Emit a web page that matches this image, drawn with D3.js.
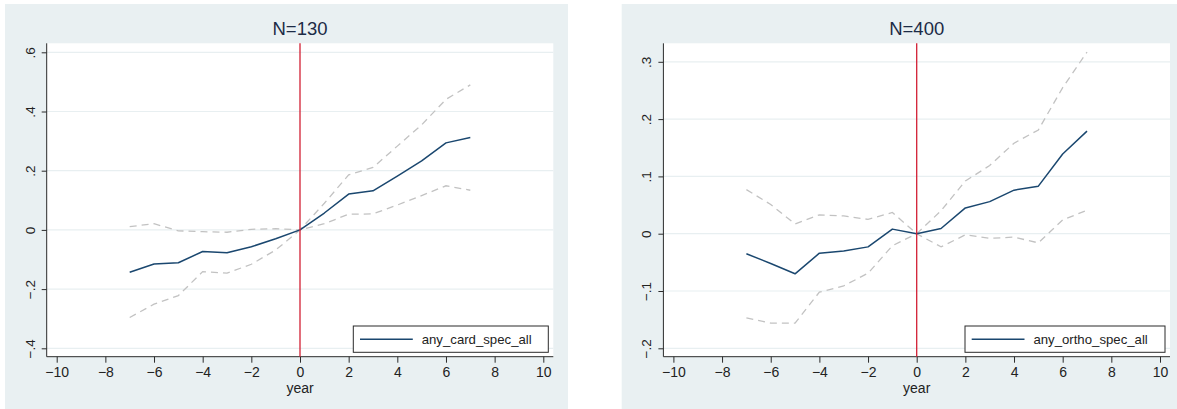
<!DOCTYPE html>
<html>
<head>
<meta charset="utf-8">
<script src="https://cdn.jsdelivr.net/npm/d3@7"></script>
<style>
  html, body { margin: 0; padding: 0; background: #ffffff; }
  svg { display: block; font-family: "Liberation Sans", Arial, sans-serif; }
</style>
</head>
<body>
<svg id="chart" width="1177" height="409"></svg>
<script>
// ---------- data ----------
const years = [-7, -6, -5, -4, -3, -2, -1, 0, 1, 2, 3, 4, 5, 6, 7];

const cardEst = [-0.143, -0.115, -0.111, -0.073, -0.077, -0.057, -0.030, 0, 0.057, 0.121, 0.132, 0.182, 0.233, 0.294, 0.312];
const cardHi  = [0.011, 0.021, -0.003, -0.006, -0.008, 0.002, 0.004, 0, 0.090, 0.186, 0.211, 0.283, 0.355, 0.441, 0.490];
const cardLo  = [-0.296, -0.251, -0.222, -0.141, -0.146, -0.116, -0.068, 0, 0.021, 0.053, 0.054, 0.084, 0.116, 0.149, 0.134];

const orthoEst = [-0.035, -0.052, -0.070, -0.034, -0.030, -0.023, 0.008, 0, 0.009, 0.045, 0.056, 0.076, 0.083, 0.139, 0.179];
const orthoHi  = [0.077, 0.051, 0.017, 0.033, 0.031, 0.025, 0.037, 0, 0.040, 0.092, 0.119, 0.158, 0.181, 0.255, 0.317];
const orthoLo  = [-0.147, -0.156, -0.156, -0.102, -0.091, -0.069, -0.021, 0, -0.023, -0.002, -0.008, -0.006, -0.016, 0.024, 0.041];

const xTicks = [-10, -8, -6, -4, -2, 0, 2, 4, 6, 8, 10];
const cardYTicks = [-0.4, -0.2, 0, 0.2, 0.4, 0.6];
const orthoYTicks = [-0.2, -0.1, 0, 0.1, 0.2, 0.3];

const titles = ["N=130", "N=400"];
const legendLabels = ["any_card_spec_all", "any_ortho_spec_all"];
const xLabel = "year";

// ---------- styles ----------
const C = {
  bg: "#e9f0f2",
  grid: "#e8eff1",
  axis: "#2b2b2b",
  est: "#1a476f",
  ci: "#c2c2c2",
  red: "#d21f34",
  title: "#1c2b46",
  text: "#222222"
};

const svg = d3.select("#chart");

function fmt(v) {
  if (Math.abs(v) < 1e-9) return "0";
  let s = String(Math.abs(+v.toFixed(3))).replace(/^0\./, ".");
  return (v < 0 ? "\u2212" : "") + s;
}
function fmtX(v) { return (v < 0 ? "\u2212" : "") + Math.abs(v); }

function drawPanel(offsetX, est, lo, hi, yDomain, yRangePx, yTicks, title, legendLabel, legendW) {
  const g = svg.append("g").attr("transform", `translate(${offsetX},0)`);
  const plot = { x0: 46.7, x1: 553.3, y0: 43.3, y1: 356.7 };

  // panel background
  g.append("rect").attr("x", 5).attr("y", 4).attr("width", 563).attr("height", 405).attr("fill", C.bg);
  g.append("rect").attr("x", plot.x0).attr("y", plot.y0)
    .attr("width", plot.x1 - plot.x0).attr("height", plot.y1 - plot.y0).attr("fill", "#ffffff");

  const x = d3.scaleLinear().domain([-10, 10]).range([56.7, 543.3]);
  const y = d3.scaleLinear().domain(yDomain).range(yRangePx);

  // grid lines
  g.append("g").selectAll("line").data(yTicks).join("line")
    .attr("x1", plot.x0).attr("x2", plot.x1)
    .attr("y1", d => y(d)).attr("y2", d => y(d))
    .attr("stroke", C.grid).attr("stroke-width", 1.2);

  // y axis
  const yAxis = d3.axisLeft(y).tickValues(yTicks).tickSize(5).tickPadding(6).tickFormat(fmt);
  const ya = g.append("g").attr("transform", `translate(${plot.x0},0)`).call(yAxis);
  ya.select(".domain").attr("d", `M0,${plot.y0}V${plot.y1}`).attr("stroke", C.axis);
  ya.selectAll(".tick line").attr("stroke", C.axis);
  ya.selectAll(".tick text")
    .attr("x", null).attr("dy", null)
    .attr("transform", "translate(-12,0) rotate(-90)")
    .attr("text-anchor", "middle")
    .attr("font-size", 13.5).attr("fill", C.text)
    .attr("font-family", "Liberation Sans, Arial, sans-serif");

  // x axis
  const xAxis = d3.axisBottom(x).tickValues(xTicks).tickSize(6).tickPadding(4).tickFormat(fmtX);
  const xa = g.append("g").attr("transform", `translate(0,${plot.y1})`).call(xAxis);
  xa.select(".domain").attr("d", `M${plot.x0},0H${plot.x1}`).attr("stroke", C.axis);
  xa.selectAll(".tick line").attr("stroke", C.axis);
  xa.selectAll(".tick text").attr("font-size", 14).attr("fill", C.text)
    .attr("font-family", "Liberation Sans, Arial, sans-serif");

  // lines
  const pts = arr => years.map((yr, i) => [yr, arr[i]]);
  const line = d3.line().x(d => x(d[0])).y(d => y(d[1]));

  [hi, lo].forEach(arr => {
    g.append("path").attr("d", line(pts(arr)))
      .attr("fill", "none").attr("stroke", C.ci).attr("stroke-width", 1.3)
      .attr("stroke-dasharray", "7,5");
  });
  g.append("path").attr("d", line(pts(est)))
    .attr("fill", "none").attr("stroke", C.est).attr("stroke-width", 1.5)
    .attr("stroke-linejoin", "round");

  // red reference line at 0
  g.append("line").attr("x1", x(0)).attr("x2", x(0))
    .attr("y1", plot.y0).attr("y2", plot.y1)
    .attr("stroke", C.red).attr("stroke-width", 1.3);

  // title
  g.append("text").attr("x", (plot.x0 + plot.x1) / 2).attr("y", 35)
    .attr("text-anchor", "middle").attr("font-size", 18.5).attr("fill", C.title)
    .text(title);

  // x label
  g.append("text").attr("x", x(0)).attr("y", 392.5)
    .attr("text-anchor", "middle").attr("font-size", 14).attr("fill", C.text)
    .text(xLabel);

  // legend
  const lx1 = plot.x1 - 5, lx0 = lx1 - legendW;
  const lg = g.append("g");
  lg.append("rect").attr("x", lx0).attr("y", 326).attr("width", legendW).attr("height", 26.3)
    .attr("fill", "#ffffff").attr("stroke", "#2b2b2b").attr("stroke-width", 1);
  lg.append("line").attr("x1", lx0 + 6.7).attr("x2", lx0 + 59.5)
    .attr("y1", 339.3).attr("y2", 339.3).attr("stroke", C.est).attr("stroke-width", 1.5);
  lg.append("text").attr("x", lx0 + 68.4).attr("y", 344)
    .attr("font-size", 13.2).attr("fill", C.text).text(legendLabel);
}

drawPanel(0, cardEst, cardLo, cardHi, [-0.4, 0.6], [348.3, 52.3], cardYTicks, titles[0], legendLabels[0], 195);
drawPanel(616.7, orthoEst, orthoLo, orthoHi, [-0.2, 0.3], [348.3, 61.8], orthoYTicks, titles[1], legendLabels[1], 200);
</script>
</body>
</html>
